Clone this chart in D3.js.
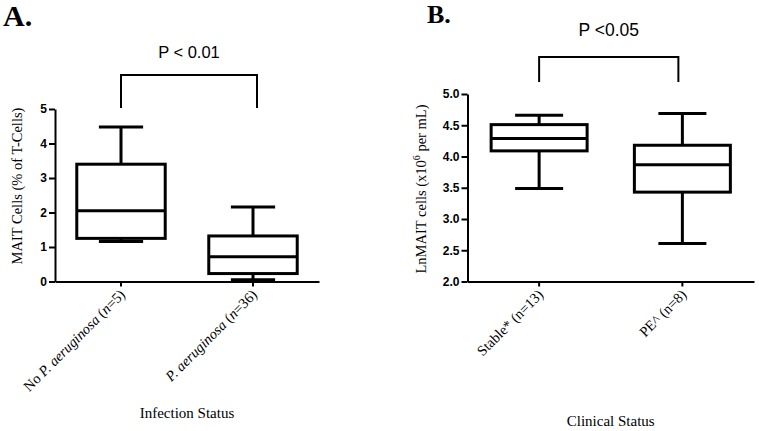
<!DOCTYPE html>
<html><head><meta charset="utf-8">
<script src="https://cdn.jsdelivr.net/npm/d3@7"></script>
<style>body{margin:0;background:#fff}svg{display:block}</style>
</head><body>
<svg id="c" width="759" height="431"></svg>
<script>
// ---- data ----
const catsA = ["No P. aeruginosa (n=5)", "P. aeruginosa (n=36)"];
// [min, q1, median, q3, max]
const statsA = [[1.16, 1.25, 2.05, 3.40, 4.48], [0.05, 0.23, 0.72, 1.32, 2.16]];
const ticksA = [0, 1, 2, 3, 4, 5];
const catsB = ["Stable* (n=13)", "PE^ (n=8)"];
const statsB = [[3.49, 4.09, 4.29, 4.51, 4.66], [2.61, 3.43, 3.87, 4.18, 4.69]];
const ticksB = [2.0, 2.5, 3.0, 3.5, 4.0, 4.5, 5.0];
const pA = "P < 0.01", pB = "P <0.05";

const svg = d3.select("#c");
const serif = "'Liberation Serif','Times New Roman',serif";
const sans = "'Liberation Sans',Arial,sans-serif";

function labelParts(s) {
  // italicise species name and "n"
  const parts = [];
  const re = /(P\. aeruginosa)|\((n)=/g;
  let last = 0, m;
  if (!/aeruginosa/.test(s)) return [{t: s, i: false}];
  while ((m = re.exec(s)) !== null) {
    if (m[1]) {
      parts.push({t: s.slice(last, m.index), i: false});
      parts.push({t: m[1], i: true});
      last = m.index + m[1].length;
    } else {
      parts.push({t: s.slice(last, m.index + 1), i: false});
      parts.push({t: "n", i: true});
      last = m.index + 2;
    }
  }
  parts.push({t: s.slice(last), i: false});
  return parts.filter(p => p.t.length);
}

function panel(o) {
  const g = svg.append("g");
  const x = d3.scaleBand().domain(o.cats).range([o.x0, o.x1]).padding(0);
  const y = d3.scaleLinear().domain(o.ydom).range([o.yb, o.yt]);
  const bw = x.bandwidth() * 0.67;

  // axes
  const ya = g.append("g").attr("transform", `translate(${o.x0},0)`)
    .call(d3.axisLeft(y).tickValues(o.ticks).tickFormat(o.fmt).tickSize(6).tickSizeOuter(0));
  const xa = g.append("g").attr("transform", `translate(0,${o.yb})`)
    .call(d3.axisBottom(x).tickSize(5).tickSizeOuter(0).tickFormat(""));
  [ya, xa].forEach(a => {
    a.select(".domain").attr("stroke", "#000").attr("stroke-width", 2);
    a.selectAll(".tick line").attr("stroke", "#000").attr("stroke-width", 2);
  });
  ya.selectAll(".tick text").attr("font-family", sans).attr("font-weight", "bold")
    .attr("font-size", 12).attr("fill", "#000").attr("x", -8);

  // boxes
  o.stats.forEach((s, i) => {
    const cx = x(o.cats[i]) + x.bandwidth() / 2;
    const bg = g.append("g").attr("stroke", "#000").attr("stroke-width", 3).attr("fill", "none");
    bg.append("line").attr("x1", cx).attr("x2", cx).attr("y1", y(s[4])).attr("y2", y(s[3]));
    bg.append("line").attr("x1", cx).attr("x2", cx).attr("y1", y(s[1])).attr("y2", y(s[0]));
    bg.append("line").attr("x1", cx - bw / 4).attr("x2", cx + bw / 4).attr("y1", y(s[4])).attr("y2", y(s[4]));
    bg.append("line").attr("x1", cx - bw / 4).attr("x2", cx + bw / 4).attr("y1", y(s[0])).attr("y2", y(s[0]));
    bg.append("rect").attr("x", cx - bw / 2).attr("width", bw)
      .attr("y", y(s[3])).attr("height", y(s[1]) - y(s[3]));
    bg.append("line").attr("x1", cx - bw / 2).attr("x2", cx + bw / 2).attr("y1", y(s[2])).attr("y2", y(s[2]));

    // category label
    const t = g.append("text").attr("font-family", serif).attr("font-size", 14.5)
      .attr("text-anchor", "end")
      .attr("transform", `translate(${cx + 5},${o.yb + 14}) rotate(-45)`);
    labelParts(o.cats[i]).forEach(p => t.append("tspan").text(p.t).attr("font-style", p.i ? "italic" : "normal"));
  });

  // bracket
  const c0 = x(o.cats[0]) + x.bandwidth() / 2, c1 = x(o.cats[1]) + x.bandwidth() / 2 + o.bOff;
  g.append("path").attr("fill", "none").attr("stroke", "#000").attr("stroke-width", 2)
    .attr("d", `M${c0},${o.brB}V${o.brT}H${c1}V${o.brB}`);
  g.append("text").attr("x", (c0 + c1) / 2).attr("y", o.pY).attr("text-anchor", "middle")
    .attr("font-family", sans).attr("font-size", o.pS).text(o.p);

  // axis titles
  g.append("text").attr("x", (o.x0 + o.x1) / 2).attr("y", o.xtY).attr("text-anchor", "middle")
    .attr("font-family", serif).attr("font-size", 15).text(o.xTitle);
  const yt = g.append("text").attr("text-anchor", "middle").attr("font-family", serif).attr("font-size", 14.5)
    .attr("transform", `translate(${o.ytX},${o.ytY}) rotate(-90)`);
  o.yTitle(yt);

  g.append("text").attr("x", o.lx).attr("y", o.ly).attr("font-family", serif).attr("font-weight", "bold")
    .attr("font-size", o.ls).text(o.letter);
}

panel({
  cats: catsA, stats: statsA, ticks: ticksA, ydom: [0, 5], fmt: d3.format("d"),
  x0: 55, x1: 319, yb: 281.5, yt: 109,
  brT: 75, brB: 108, bOff: 4, p: pA, pY: 58, pS: 16.5,
  xTitle: "Infection Status", xtY: 418,
  ytX: 22, ytY: 186, yTitle: t => t.text("MAIT Cells (% of T-Cells)"),
  letter: "A.", lx: 3, ly: 26, ls: 30
});

panel({
  cats: catsB, stats: statsB, ticks: ticksB, ydom: [2, 5], fmt: d3.format(".1f"),
  x0: 467.5, x1: 754, yb: 281.5, yt: 94,
  brT: 57, brB: 82, bOff: -4, p: pB, pY: 36, pS: 17.5,
  xTitle: "Clinical Status", xtY: 426,
  ytX: 426, ytY: 189,
  yTitle: t => {
    t.append("tspan").text("LnMAIT cells (x10");
    t.append("tspan").attr("font-size", 10).attr("dy", -6).text("6");
    t.append("tspan").attr("dy", 6).text(" per mL)");
  },
  letter: "B.", lx: 427, ly: 23, ls: 26
});
</script>
</body></html>
